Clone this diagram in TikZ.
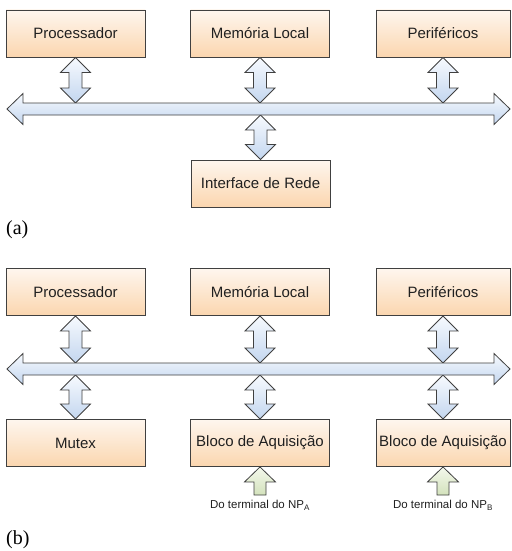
\documentclass[tikz,border=0pt]{standalone}
\usepackage{fontspec}
\setmainfont{Liberation Serif}
\newfontfamily\boxfont{Liberation Sans}
\usetikzlibrary{calc}
\definecolor{edge}{HTML}{404040}
\definecolor{txt}{HTML}{202020}
\definecolor{boxtop}{HTML}{FEF6EE}
\definecolor{boxbot}{HTML}{FBD6AF}
\definecolor{arrtop}{HTML}{F7FAFE}
\definecolor{arrbot}{HTML}{C3D6EF}
\definecolor{grtop}{HTML}{F4F8EC}
\definecolor{grbot}{HTML}{D3E2BC}
\tikzset{
  unitbox/.style={draw=edge, line width=0.9pt, top color=boxtop, bottom color=boxbot,
    minimum width=139pt, minimum height=47pt, inner sep=0pt, text=txt,
    font=\boxfont\fontsize{15}{17}\selectfont},
  bluearr/.style={draw=edge, line width=0.8pt, line join=miter, top color=arrtop, bottom color=arrbot},
  greenarr/.style={draw=edge, line width=0.8pt, line join=miter, top color=grtop, bottom color=grbot},
  smalltxt/.style={font=\boxfont\fontsize{11.5}{13}\selectfont, inner sep=0pt, text=txt},
  partlabel/.style={font=\fontsize{20}{22}\selectfont, inner sep=0pt, anchor=west}
}
% vertical double block arrow: #1 top tip, #2 bottom tip
\newcommand\vdarrow[2]{%
  \path[bluearr] let \p1=#1, \p2=#2 in
    (\x1,\y1) -- (\x1+15pt,\y1-15pt) -- (\x1+6.5pt,\y1-15pt) -- (\x1+6.5pt,\y2+15pt)
    -- (\x1+15pt,\y2+15pt) -- (\x1,\y2) -- (\x1-15pt,\y2+15pt) -- (\x1-6.5pt,\y2+15pt)
    -- (\x1-6.5pt,\y1-15pt) -- (\x1-15pt,\y1-15pt) -- cycle;}
% horizontal double block arrow: #1 left tip, #2 right tip
\newcommand\hdarrow[2]{%
  \path[bluearr] let \p1=#1, \p2=#2 in
    (\x1,\y1) -- (\x1+16pt,\y1+15.5pt) -- (\x1+16pt,\y1+6pt) -- (\x2-16pt,\y1+6pt)
    -- (\x2-16pt,\y1+15.5pt) -- (\x2,\y1) -- (\x2-16pt,\y1-15.5pt) -- (\x2-16pt,\y1-6pt)
    -- (\x1+16pt,\y1-6pt) -- (\x1+16pt,\y1-15.5pt) -- cycle;}
% upward block arrow: #1 tip, #2 point at base of shaft
\newcommand\uparrowblk[2]{%
  \path[greenarr] let \p1=#1, \p2=#2 in
    (\x1,\y1) -- (\x1+15.5pt,\y1-15pt) -- (\x1+6pt,\y1-15pt) -- (\x1+6pt,\y2)
    -- (\x1-6pt,\y2) -- (\x1-6pt,\y1-15pt) -- (\x1-15.5pt,\y1-15pt) -- cycle;}
\begin{document}
\begin{tikzpicture}[x=1pt,y=-1pt]
\useasboundingbox (0,0) rectangle (511,551);
\fill[white] (0,0) rectangle (511,551);

% ---------- (a) ----------
\node[unitbox] (procA) at (75.5,33.5) {Processador};
\node[unitbox] (memA) at (260,33.5) {Memória Local};
\node[unitbox, minimum width=134pt] (perA) at (443,33.5) {Periféricos};
\node[unitbox] (netA) at (260.5,183.5) {Interface de Rede};

\coordinate (busAL) at (7,109);
\coordinate (busAR) at (510,109);
\coordinate (busAT) at (0,103);
\coordinate (busAB) at (0,115);

\vdarrow{(procA.south)}{(procA.south |- busAT)}
\vdarrow{(memA.south)}{(memA.south |- busAT)}
\vdarrow{(perA.south)}{(perA.south |- busAT)}
\vdarrow{(netA.north |- busAB)}{(netA.north)}
\hdarrow{(busAL)}{(busAR)}

\node[partlabel] (labA) at (6,230) {(a)};

% ---------- (b) ----------
\node[unitbox] (procB) at (75.5,292) {Processador};
\node[unitbox] (memB) at (260,292) {Memória Local};
\node[unitbox, minimum width=134pt] (perB) at (443,292) {Periféricos};
\node[unitbox] (mutB) at (75.5,443) {Mutex};
\node[unitbox] (acqA) at (260,443) {Bloco de Aquisição};
\node[unitbox, minimum width=134pt] (acqB) at (443,443) {Bloco de Aquisição};

\coordinate (busBL) at (7,369);
\coordinate (busBR) at (510,369);
\coordinate (busBT) at (0,363);
\coordinate (busBB) at (0,375);

\vdarrow{(procB.south)}{(procB.south |- busBT)}
\vdarrow{(memB.south)}{(memB.south |- busBT)}
\vdarrow{(perB.south)}{(perB.south |- busBT)}
\vdarrow{(mutB.north |- busBB)}{(mutB.north)}
\vdarrow{(acqA.north |- busBB)}{(acqA.north)}
\vdarrow{(acqB.north |- busBB)}{(acqB.north)}
\hdarrow{(busBL)}{(busBR)}

\node[smalltxt] (srcA) at (260,505) {Do terminal do NP\textsubscript{A}};
\node[smalltxt] (srcB) at (443,505) {Do terminal do NP\textsubscript{B}};
\uparrowblk{(acqA.south)}{(acqA.south |- 0,495)}
\uparrowblk{(acqB.south)}{(acqB.south |- 0,495)}

\node[partlabel] (labB) at (6,540) {(b)};
\end{tikzpicture}
\end{document}
